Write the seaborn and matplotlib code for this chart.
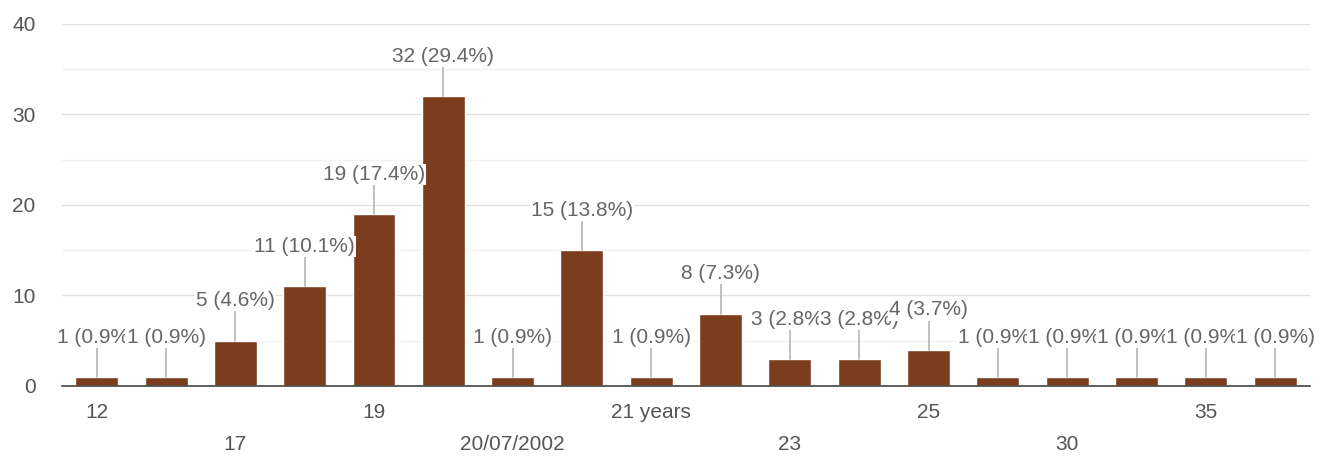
import pandas as pd
import seaborn as sns
import matplotlib.pyplot as plt

# data
ages = ['12', '16', '17', '18', '19', '20', '20/07/2002', '21', '21 years',
        '22', '23', '24', '25', '26', '30', '32', '35', '40']
counts = [1, 1, 5, 11, 19, 32, 1, 15, 1, 8, 3, 3, 4, 1, 1, 1, 1, 1]
shown_ticks = ['12', '17', '19', '20/07/2002', '21 years', '23', '25', '30', '35']
y_ticks = [0, 10, 20, 30, 40]

bar_color = '#7c3d1e'
total = sum(counts)

df = pd.DataFrame({'age': ages, 'count': counts})
df['pct'] = df['count'] / total * 100

sns.set_theme(style='white')
plt.rcParams['font.family'] = ['Liberation Sans', 'DejaVu Sans']

fig = plt.figure(figsize=(13.28, 4.57), dpi=100)
ax = fig.add_axes([0.0467, 0.1554, 0.9397, 0.7921])

sns.barplot(data=df, x='age', y='count', order=ages, color=bar_color,
            saturation=1, width=0.62, ax=ax, zorder=2)

ax.set_xlim(-0.5, len(ages) - 0.5)
ax.set_ylim(0, 40)
ax.set_yticks(y_ticks)
ax.set_yticks([5, 15, 25, 35], minor=True)
ax.grid(axis='y', which='major', color='#e2e2e2', lw=1, zorder=0)
ax.grid(axis='y', which='minor', color='#f3f3f3', lw=1, zorder=0)
ax.set_axisbelow(True)

for side in ['left', 'right', 'top']:
    ax.spines[side].set_visible(False)
ax.spines['bottom'].set_color('#444444')
ax.spines['bottom'].set_linewidth(1.2)
ax.spines['bottom'].set_zorder(5)

ax.tick_params(axis='y', length=0, pad=19, labelsize=15, labelcolor='#555555')
ax.tick_params(axis='y', which='minor', length=0)
ax.tick_params(axis='x', length=0, pad=12, labelsize=15, labelcolor='#555555')

labels = []
row = 0
for a in ages:
    if a in shown_ticks:
        labels.append(a if row % 2 == 0 else '\n' + a)
        row += 1
    else:
        labels.append('')
ax.set_xticks(range(len(ages)))
ax.set_xticklabels(labels)
for t in ax.get_xticklabels():
    t.set_linespacing(1.9)

ax.set_xlabel('')
ax.set_ylabel('')

# value labels with leader lines
for i, (c, p) in enumerate(zip(df['count'], df['pct'])):
    ax.plot([i, i], [c, c + 3.3], color='#b5b5b5', lw=1.2, zorder=3)
    ax.text(i, c + 4.4, f'{c} ({p:.1f}%)', ha='center', va='center',
            fontsize=15, color='#666666', zorder=4 + i,
            bbox=dict(boxstyle='square,pad=0.05', fc='white', ec='none'))

plt.savefig('out.png', dpi=100)
